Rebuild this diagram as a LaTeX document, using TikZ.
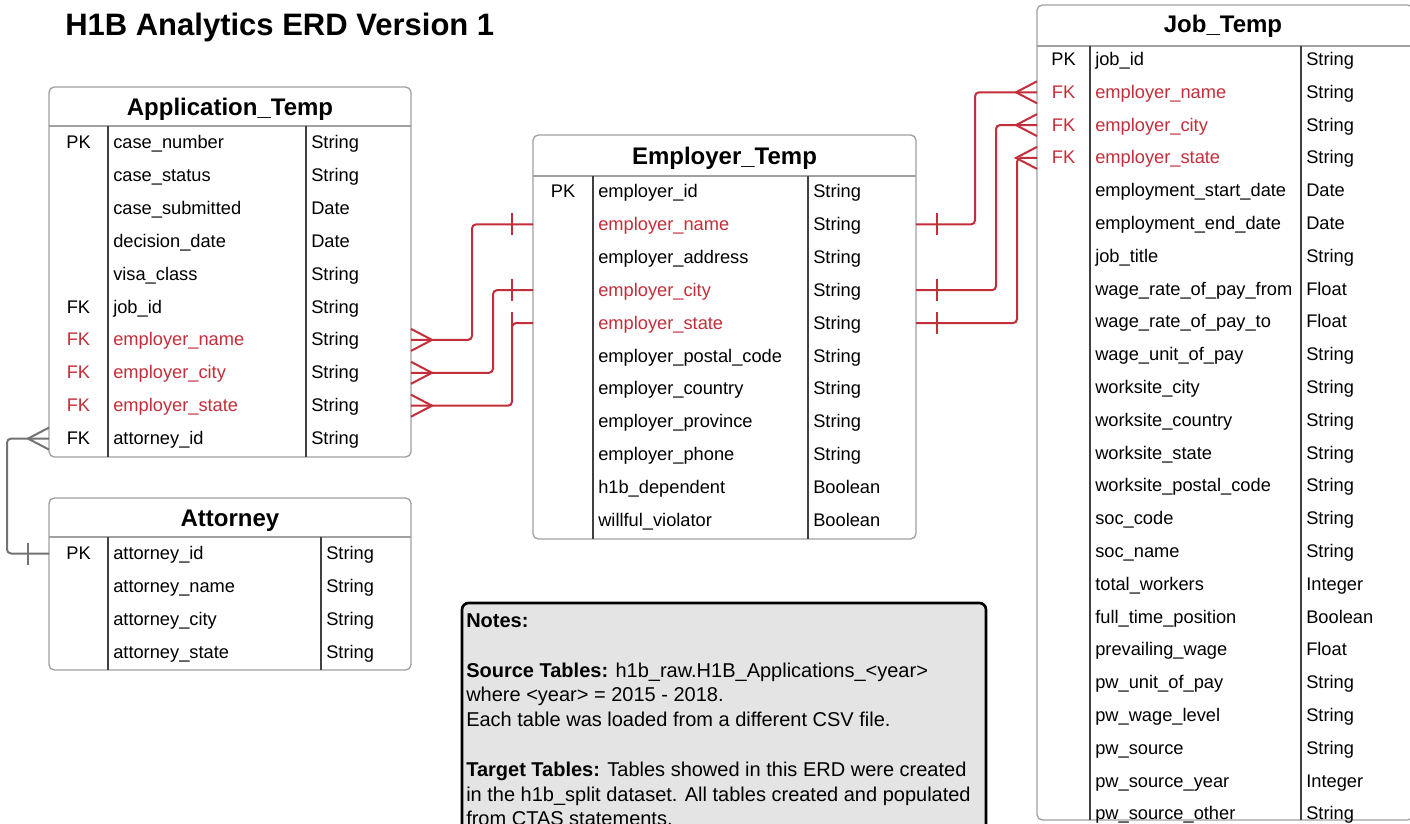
\documentclass[tikz,border=0pt]{standalone}
\usepackage{fontspec}
\setmainfont{Liberation Sans}
\usetikzlibrary{calc,fit}
\definecolor{erdred}{RGB}{196,46,58}
\definecolor{boxgray}{RGB}{160,160,160}
\definecolor{notefill}{RGB}{228,228,228}
\tikzset{
 tablebox/.style={draw=boxgray, line width=1pt, rounded corners=4pt, inner sep=0pt, fill=white},
 sepline/.style={draw=boxgray, line width=1pt},
 divline/.style={draw=black!75, line width=0.8pt},
 rowbox/.style={inner sep=0pt, outer sep=0pt},
 celltext/.style={inner sep=0pt, font=\fontsize{13.7}{16}\selectfont},
 hdrtext/.style={inner sep=0pt, font=\fontsize{18}{22}\selectfont\bfseries, anchor=base},
 rel/.style={draw=erdred, line width=1.5pt, rounded corners=3pt},
 relgray/.style={draw=black!55, line width=1.5pt, rounded corners=3pt},
 notebox/.style={draw=black, fill=notefill, line width=2pt, rounded corners=5pt, inner sep=0pt},
 notetext/.style={inner sep=0pt, anchor=base west, font=\fontsize{15}{18}\selectfont},
}
\newcommand\tabgeom[6]{\def\tgL{#1}\def\tgR{#2}\def\tgA{#3}\def\tgB{#4}\def\tgF{#5}\def\tgP{#6}}
\newcommand\erow[6]{%
  \pgfmathsetmacro\yy{\tgF+(#2-1)*\tgP}%
  \pgfmathsetmacro\xc{(\tgL+\tgR)/2}%
  \pgfmathsetmacro\ww{\tgR-\tgL}%
  \pgfmathsetmacro\xk{(\tgL+\tgA)/2}%
  \node[rowbox, minimum width=\ww*0.75pt, minimum height=\tgP*0.75pt] (#1-#2) at (\xc,\yy) {};
  \node[celltext, text=#3, anchor=base] (#1-#2-k) at (\xk,\yy+6) {#4};
  \node[celltext, text=#3, anchor=base west] (#1-#2-f) at (\tgA+5,\yy+6) {#5};
  \node[celltext, anchor=base west] (#1-#2-t) at (\tgB+5,\yy+6) {#6};
}
\newcommand\crow[3]{\draw[#3, rounded corners=0pt] ($(#1)+(0,-11)$) -- ($(#1)+(#2*21,0)$) -- ($(#1)+(0,11)$);}
\newcommand\onebar[3]{\draw[#3, rounded corners=0pt] ($(#1)+(#2*21,-11)$) -- ($(#1)+(#2*21,11)$);}
\begin{document}
\begin{tikzpicture}[x=0.75pt,y=-0.75pt]
\useasboundingbox (0,0) rectangle (1410,824);
\fill[white] (0,0) rectangle (1410,824);
\clip (0,0) rectangle (1410,824);

% title
\node[inner sep=0pt, anchor=base west, font=\fontsize{23.25}{28}\selectfont\bfseries] (title) at (65,36) {H1B Analytics ERD Version 1};

% Application_Temp
\node[tablebox, fit={(49,87)(411,457)}] (app) {};
\draw[sepline] (49,126) -- (411,126);
\draw[divline] (108,126) -- (108,457);
\draw[divline] (306,126) -- (306,457);
\node[hdrtext] (app-title) at (230,115) {Application\_Temp};
\tabgeom{49}{411}{108}{306}{142.5}{32.9}
\erow{app}{1}{black}{PK}{case\_number}{String}
\erow{app}{2}{black}{}{case\_status}{String}
\erow{app}{3}{black}{}{case\_submitted}{Date}
\erow{app}{4}{black}{}{decision\_date}{Date}
\erow{app}{5}{black}{}{visa\_class}{String}
\erow{app}{6}{black}{FK}{job\_id}{String}
\erow{app}{7}{erdred}{FK}{employer\_name}{String}
\erow{app}{8}{erdred}{FK}{employer\_city}{String}
\erow{app}{9}{erdred}{FK}{employer\_state}{String}
\erow{app}{10}{black}{FK}{attorney\_id}{String}

% Attorney
\node[tablebox, fit={(49,498)(411,670)}] (att) {};
\draw[sepline] (49,537) -- (411,537);
\draw[divline] (108,537) -- (108,670);
\draw[divline] (321,537) -- (321,670);
\node[hdrtext] (att-title) at (230,526) {Attorney};
\tabgeom{49}{411}{108}{321}{553.5}{33}
\erow{att}{1}{black}{PK}{attorney\_id}{String}
\erow{att}{2}{black}{}{attorney\_name}{String}
\erow{att}{3}{black}{}{attorney\_city}{String}
\erow{att}{4}{black}{}{attorney\_state}{String}

% Employer_Temp
\node[tablebox, fit={(533,135)(916,539)}] (emp) {};
\draw[sepline] (533,176) -- (916,176);
\draw[divline] (593,176) -- (593,539);
\draw[divline] (808,176) -- (808,539);
\node[hdrtext] (emp-title) at (724.5,164) {Employer\_Temp};
\tabgeom{533}{916}{593}{808}{191.5}{32.9}
\erow{emp}{1}{black}{PK}{employer\_id}{String}
\erow{emp}{2}{erdred}{}{employer\_name}{String}
\erow{emp}{3}{black}{}{employer\_address}{String}
\erow{emp}{4}{erdred}{}{employer\_city}{String}
\erow{emp}{5}{erdred}{}{employer\_state}{String}
\erow{emp}{6}{black}{}{employer\_postal\_code}{String}
\erow{emp}{7}{black}{}{employer\_country}{String}
\erow{emp}{8}{black}{}{employer\_province}{String}
\erow{emp}{9}{black}{}{employer\_phone}{String}
\erow{emp}{10}{black}{}{h1b\_dependent}{Boolean}
\erow{emp}{11}{black}{}{willful\_violator}{Boolean}

% Job_Temp
\node[tablebox, fit={(1037,5)(1413,820)}] (job) {};
\draw[sepline] (1037,46) -- (1413,46);
\draw[divline] (1090,46) -- (1090,820);
\draw[divline] (1301,46) -- (1301,820);
\node[hdrtext] (job-title) at (1223,33) {Job\_Temp};
\tabgeom{1037}{1413}{1090}{1301}{59.5}{32.8}
\erow{job}{1}{black}{PK}{job\_id}{String}
\erow{job}{2}{erdred}{FK}{employer\_name}{String}
\erow{job}{3}{erdred}{FK}{employer\_city}{String}
\erow{job}{4}{erdred}{FK}{employer\_state}{String}
\erow{job}{5}{black}{}{employment\_start\_date}{Date}
\erow{job}{6}{black}{}{employment\_end\_date}{Date}
\erow{job}{7}{black}{}{job\_title}{String}
\erow{job}{8}{black}{}{wage\_rate\_of\_pay\_from}{Float}
\erow{job}{9}{black}{}{wage\_rate\_of\_pay\_to}{Float}
\erow{job}{10}{black}{}{wage\_unit\_of\_pay}{String}
\erow{job}{11}{black}{}{worksite\_city}{String}
\erow{job}{12}{black}{}{worksite\_country}{String}
\erow{job}{13}{black}{}{worksite\_state}{String}
\erow{job}{14}{black}{}{worksite\_postal\_code}{String}
\erow{job}{15}{black}{}{soc\_code}{String}
\erow{job}{16}{black}{}{soc\_name}{String}
\erow{job}{17}{black}{}{total\_workers}{Integer}
\erow{job}{18}{black}{}{full\_time\_position}{Boolean}
\erow{job}{19}{black}{}{prevailing\_wage}{Float}
\erow{job}{20}{black}{}{pw\_unit\_of\_pay}{String}
\erow{job}{21}{black}{}{pw\_wage\_level}{String}
\erow{job}{22}{black}{}{pw\_source}{String}
\erow{job}{23}{black}{}{pw\_source\_year}{Integer}
\erow{job}{24}{black}{}{pw\_source\_other}{String}

% Notes
\node[notebox, fit={(462,603)(986,870)}] (notes) {};
\node[notetext, font=\fontsize{15}{18}\selectfont\bfseries] (n1) at (466,627) {Notes:};
\node[notetext] (n2) at (466,677) {\textbf{Source Tables:} h1b\_raw.H1B\_Applications\_<year>};
\node[notetext] (n3) at (466,701.5) {where <year> = 2015 - 2018.};
\node[notetext] (n4) at (466,726) {Each table was loaded from a different CSV file.};
\node[notetext] (n5) at (466,776.5) {\textbf{Target Tables:} Tables showed in this ERD were created};
\node[notetext] (n6) at (466,801) {in the h1b\_split dataset. All tables created and populated};
\node[notetext] (n7) at (466,825.5) {from CTAS statements.};

% Relationships Application -> Employer
\draw[rel] (app-7.east) -- ++(61,0) |- (emp-2.west);
\crow{app-7.east}{1}{rel}
\onebar{emp-2.west}{-1}{rel}
\draw[rel] (app-8.east) -- ++(82,0) |- (emp-4.west);
\crow{app-8.east}{1}{rel}
\onebar{emp-4.west}{-1}{rel}
\draw[rel] (app-9.east) -- ++(101,0) |- (emp-5.west);
\crow{app-9.east}{1}{rel}
\onebar{emp-5.west}{-1}{rel}

% Employer -> Job
\draw[rel] (emp-2.east) -- ++(59,0) |- (job-2.west);
\onebar{emp-2.east}{1}{rel}
\crow{job-2.west}{-1}{rel}
\draw[rel] (emp-4.east) -- ++(80,0) |- (job-3.west);
\onebar{emp-4.east}{1}{rel}
\crow{job-3.west}{-1}{rel}
\draw[rel] (emp-5.east) -- ++(101,0) |- (job-4.west);
\onebar{emp-5.east}{1}{rel}
\crow{job-4.west}{-1}{rel}

% Application -> Attorney
\draw[relgray] (app-10.west) -- ++(-42,0) |- (att-1.west);
\crow{app-10.west}{-1}{relgray}
\onebar{att-1.west}{-1}{relgray}
\end{tikzpicture}
\end{document}
